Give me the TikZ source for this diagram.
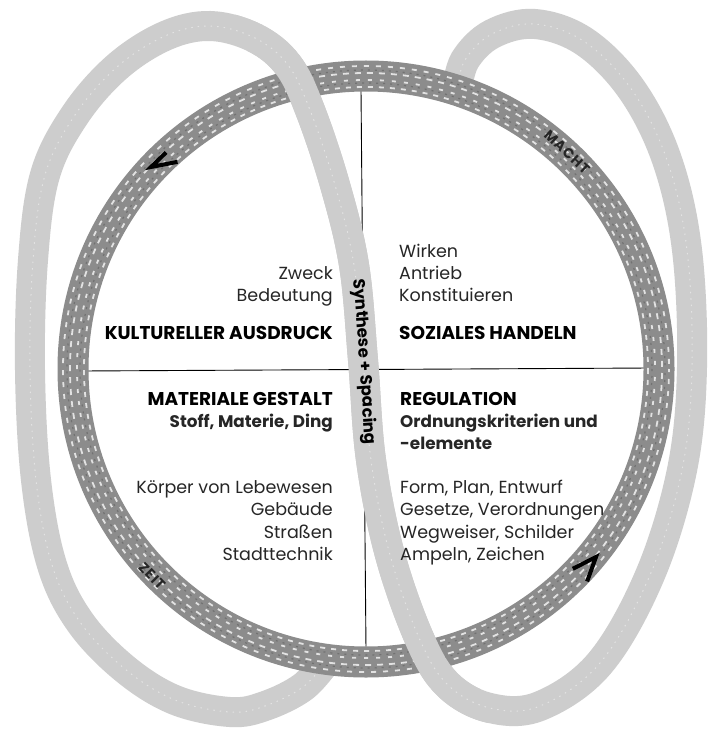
\documentclass[tikz,border=0pt]{standalone}
\usepackage{fontspec}
\setmainfont{Poppins}
\definecolor{ringc}{RGB}{140,140,140}
\definecolor{loopc}{RGB}{205,205,205}
\begin{document}
\begin{tikzpicture}[x=1pt,y=-1pt,
  txt/.style={font=\fontsize{17.5}{20}\selectfont, inner sep=0pt, text=black!85},
  hd/.style={font=\bfseries\fontsize{18.5}{21}\selectfont, inner sep=0pt},
  sub/.style={font=\bfseries\fontsize{16.8}{20}\selectfont, inner sep=0pt, text=black!85},
  ringlbl/.style={font=\bfseries\fontsize{14}{16}\selectfont\addfontfeatures{LetterSpace=7}, inner sep=0pt, text=black!85},
  loopband/.style={draw=loopc, line width=30pt},
  loopspeck/.style={draw=white, line width=1pt, dash pattern=on 1.5pt off 5pt, opacity=0.45},
  ringband/.style={draw=ringc, line width=31pt},
  ringtex/.style={draw=white, line width=1.8pt, opacity=0.75},
  ringdark/.style={draw=black!70, line width=1.2pt, dash pattern=on 2pt off 5pt, opacity=0.4},
  divider/.style={draw=black, line width=0.9pt},
  chev/.style={draw=black, line width=4pt, line join=miter, line cap=butt}]
\useasboundingbox (0,0) rectangle (708,738);
\fill[white] (0,0) rectangle (708,738);
\def\looppath{plot[smooth, tension=0.6] coordinates {(327,660) (303,687) (265,706) (230,712) (175,700) (125,669) (80,622) (52,565) (36,480) (30,370) (33,260) (45,175) (75,115) (117,67) (165,36) (210,26) (255,38) (288,65) (310,110) (335,185) (354,265) (363,360) (371,460) (390,555) (420,640) (448,685) (490,708) (540,706) (600,663) (650,575) (682,470) (692,367) (687,250) (667,160) (632,90) (585,42) (535,24) (492,34) (465,60) (457,90)}}
% loop (under the ring)
\draw[loopband] \looppath;
\draw[loopspeck] \looppath;
% dividers
\coordinate (vt) at (361,90);
\coordinate (vb) at (366,650);
\coordinate (hl) at (82,371);
\coordinate (hr) at (650,368);
\draw[divider] (vt) -- (vb);
\draw[divider] (hl) -- (hr);
% main ring
\coordinate (c) at (366,369);
\draw[ringband] (c) circle[radius=293];
\draw[ringdark] (c) circle[radius=286];
\draw[ringdark, dash phase=3pt] (c) circle[radius=299];
\draw[ringtex, dash pattern=on 5pt off 6pt] (c) circle[radius=282];
\draw[ringtex, dash pattern=on 4pt off 8pt, dash phase=4pt] (c) circle[radius=289];
\draw[ringtex, dash pattern=on 6pt off 6pt, dash phase=8pt] (c) circle[radius=296];
\draw[ringtex, dash pattern=on 5pt off 7pt, dash phase=2pt] (c) circle[radius=303];
% loop passing over the ring
\begin{scope}
\clip (230,0) -- (390,0) -- (400,300) -- (490,738) -- (380,738) -- (330,300) -- cycle;
\draw[loopband] \looppath;
\draw[loopspeck] \looppath;
\end{scope}
% chevrons
\coordinate (chA) at (151,167);
\coordinate (chB) at (596,557);
\draw[chev] (chA) ++(-44:21) -- (chA) -- ++(-11:27);
\draw[chev] (chB) ++(153:26) -- (chB) -- ++(110:26);
% ring labels
\node[ringlbl, rotate=-43] (macht) at (567,152) {MACHT};
\node[ringlbl, rotate=-46] (zeit) at (152,576) {ZEIT};
\node[font=\bfseries\fontsize{16.5}{18}\selectfont, inner sep=0pt, rotate=-86] (syn) at (364,362) {Synthese + Spacing};
% upper left
\node[txt, anchor=base east] (zweck) at (333,279) {Zweck};
\node[txt, anchor=base east] (bed) at (333,301) {Bedeutung};
\node[hd, anchor=base east] (kult) at (333,339) {KULTURELLER AUSDRUCK};
% upper right
\node[txt, anchor=base west] (wirk) at (399,257) {Wirken};
\node[txt, anchor=base west] (antr) at (399,279) {Antrieb};
\node[txt, anchor=base west] (konst) at (399,301) {Konstituieren};
\node[hd, anchor=base west] (soz) at (399,339) {SOZIALES HANDELN};
% lower left
\node[hd, anchor=base east] (mat) at (333,405) {MATERIALE GESTALT};
\node[sub, anchor=base east] (stoff) at (333,427) {Stoff, Materie, Ding};
\node[txt, anchor=base east] (koer) at (333,493) {Körper von Lebewesen};
\node[txt, anchor=base east] (geb) at (333,515.5) {Gebäude};
\node[txt, anchor=base east] (str) at (333,538) {Straßen};
\node[txt, anchor=base east] (stadt) at (333,560.5) {Stadttechnik};
% lower right
\node[hd, anchor=base west] (reg) at (400,405) {REGULATION};
\node[sub, anchor=base west] (ord) at (400,427) {Ordnungskriterien und};
\node[sub, anchor=base west] (elem) at (400,449) {-elemente};
\node[txt, anchor=base west] (form) at (400,493) {Form, Plan, Entwurf};
\node[txt, anchor=base west] (ges) at (400,515.5) {Gesetze, Verordnungen};
\node[txt, anchor=base west] (weg) at (400,538) {Wegweiser, Schilder};
\node[txt, anchor=base west] (amp) at (400,560.5) {Ampeln, Zeichen};
\end{tikzpicture}
\end{document}
